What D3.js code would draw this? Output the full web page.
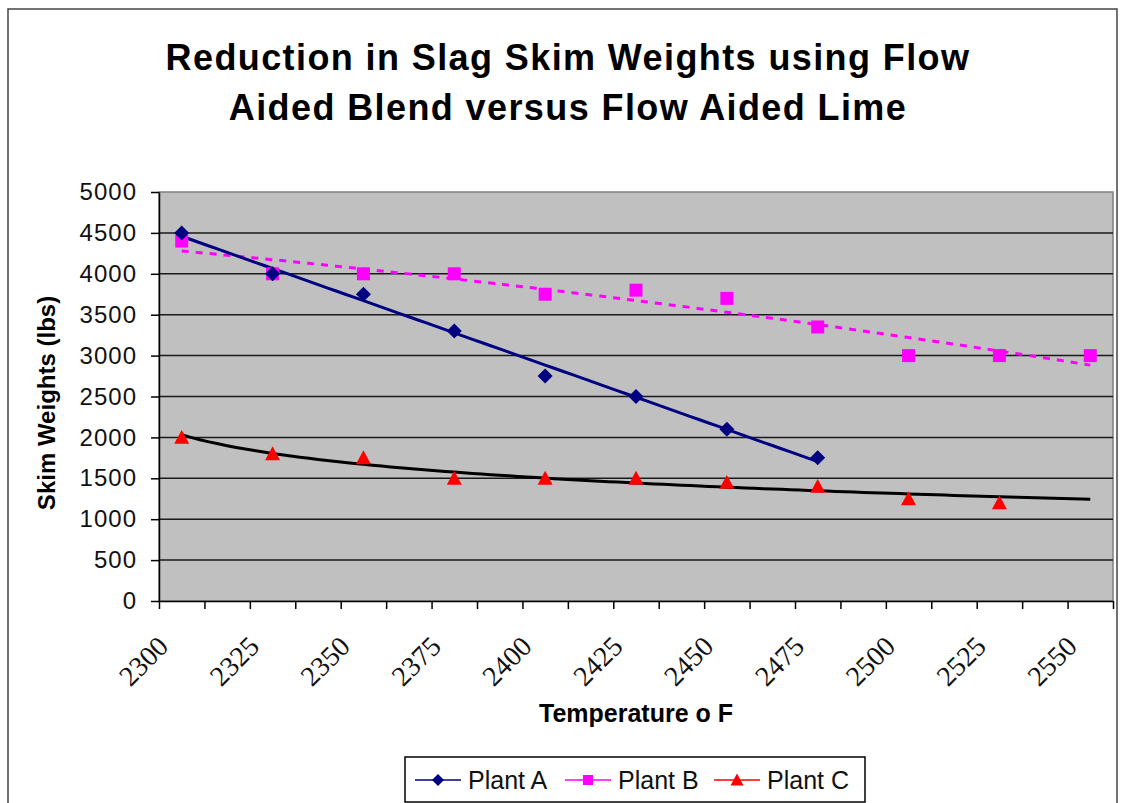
<!DOCTYPE html>
<html>
<head>
<meta charset="utf-8">
<script src="https://cdn.jsdelivr.net/npm/d3@7"></script>
<style>
  html, body { margin: 0; padding: 0; background: #fff; }
  svg { display: block; }
</style>
</head>
<body>
<svg width="1122" height="803"></svg>
<script>
"use strict";

// Temperatures (o F) used as the category labels
const temps = [2300, 2325, 2350, 2375, 2400, 2425, 2450, 2475, 2500, 2525, 2550];
// Skim weights in lbs, one per temperature (series stop where the data stops)
const plantA = [4500, 4000, 3750, 3300, 2750, 2500, 2100, 1750];
const plantB = [4400, 4000, 4000, 4000, 3750, 3800, 3700, 3350, 3000, 3000, 3000];
const plantC = [2000, 1800, 1750, 1500, 1500, 1500, 1450, 1400, 1250, 1200];
const yTicks = [0, 500, 1000, 1500, 2000, 2500, 3000, 3500, 4000, 4500, 5000];
const seriesNames = ["Plant A", "Plant B", "Plant C"];

const svg = d3.select("svg");
const plot = {left: 159, right: 1113, top: 192, bottom: 601};
const half = (temps[1] - temps[0]) / 4; // half of a tick interval

const x = d3.scaleLinear()
    .domain([temps[0] - half, temps[temps.length - 1] + half])
    .range([plot.left, plot.right]);
const y = d3.scaleLinear()
    .domain([0, 5000])
    .range([plot.bottom, plot.top]);

// x position for 1-based index used by Excel trendlines
const xIdx = i => x(temps[0] + (i - 1) * (temps[1] - temps[0]));

// outer chart border
svg.append("rect")
    .attr("x", 8).attr("y", 9)
    .attr("width", 1109).attr("height", 820)
    .attr("fill", "none").attr("stroke", "#444").attr("stroke-width", 1.5);

// title
svg.append("text")
    .attr("x", 568).attr("y", 70)
    .attr("text-anchor", "middle")
    .style("font", "bold 36px 'Liberation Sans', Arial, sans-serif")
    .style("letter-spacing", "1.4px")
    .selectAll("tspan")
    .data(["Reduction in Slag Skim Weights using Flow", "Aided Blend versus Flow Aided Lime"])
    .join("tspan")
        .attr("x", 568)
        .attr("dy", (d, i) => i ? 50 : 0)
        .text(d => d);

// plot area
svg.append("rect")
    .attr("x", plot.left).attr("y", plot.top)
    .attr("width", plot.right - plot.left).attr("height", plot.bottom - plot.top)
    .attr("fill", "#C0C0C0").attr("stroke", "#808080").attr("stroke-width", 1.5);

// gridlines
svg.append("g")
    .selectAll("line")
    .data(yTicks.filter(v => v > 0 && v < 5000))
    .join("line")
        .attr("x1", plot.left).attr("x2", plot.right)
        .attr("y1", d => y(d)).attr("y2", d => y(d))
        .attr("stroke", "#1a1a1a").attr("stroke-width", 1.5);

// y axis
const yAxis = svg.append("g")
    .attr("transform", `translate(${plot.left},0)`)
    .call(d3.axisLeft(y).tickValues(yTicks).tickFormat(d3.format("d"))
        .tickSize(8).tickSizeOuter(0).tickPadding(14));
yAxis.select(".domain").attr("stroke", "#000").attr("stroke-width", 1.5);
yAxis.selectAll(".tick line").attr("stroke", "#000").attr("stroke-width", 1.5);
yAxis.selectAll(".tick text")
    .style("font", "24px 'Liberation Sans', Arial, sans-serif")
    .style("letter-spacing", "1px")
    .attr("fill", "#111");

// x axis: tick marks every half category step
const xAxis = svg.append("g")
    .attr("transform", `translate(0,${plot.bottom})`)
    .call(d3.axisBottom(x)
        .tickValues(d3.range(0, 2 * temps.length).map(k => x.domain()[0] + k * 2 * half))
        .tickFormat("").tickSize(8).tickSizeOuter(0));
xAxis.select(".domain").attr("stroke", "#000").attr("stroke-width", 1.5);
xAxis.selectAll(".tick line").attr("stroke", "#000").attr("stroke-width", 1.5);

// x tick labels (rotated)
svg.append("g")
    .selectAll("text")
    .data(temps)
    .join("text")
        .attr("transform", d => `translate(${x(d - half) + 11},${plot.bottom + 47}) rotate(-45)`)
        .attr("text-anchor", "end")
        .style("font", "28px 'Liberation Serif', 'Times New Roman', serif")
        .attr("fill", "#111")
        .text(d => d);

// axis titles
svg.append("text")
    .attr("transform", "translate(55,403) rotate(-90)")
    .attr("text-anchor", "middle")
    .style("font", "bold 24px 'Liberation Sans', Arial, sans-serif")
    .text("Skim Weights (lbs)");
svg.append("text")
    .attr("x", 636).attr("y", 722)
    .attr("text-anchor", "middle")
    .style("font", "bold 25px 'Liberation Sans', Arial, sans-serif")
    .text("Temperature o F");

// trendline fits (Excel uses x = 1..n for line charts)
function linearFit(ys) {
    const xs = ys.map((v, i) => i + 1);
    const mx = d3.mean(xs), my = d3.mean(ys);
    const b = d3.sum(xs, (v, i) => (v - mx) * (ys[i] - my)) / d3.sum(xs, v => (v - mx) ** 2);
    return t => my + b * (t - mx);
}
function logFit(ys) {
    const ls = ys.map((v, i) => Math.log(i + 1));
    const ml = d3.mean(ls), my = d3.mean(ys);
    const b = d3.sum(ls, (v, i) => (v - ml) * (ys[i] - my)) / d3.sum(ls, v => (v - ml) ** 2);
    return t => my + b * (Math.log(t) - ml);
}
function polyFit2(ys) {
    const xs = ys.map((v, i) => i + 1);
    const s = p => d3.sum(xs, v => v ** p);
    const sy = p => d3.sum(xs, (v, i) => v ** p * ys[i]);
    const A = [[s(0), s(1), s(2)], [s(1), s(2), s(3)], [s(2), s(3), s(4)]];
    const B = [sy(0), sy(1), sy(2)];
    // gaussian elimination
    for (let c = 0; c < 3; c++) {
        for (let r = c + 1; r < 3; r++) {
            const f = A[r][c] / A[c][c];
            for (let k = c; k < 3; k++) A[r][k] -= f * A[c][k];
            B[r] -= f * B[c];
        }
    }
    const co = [0, 0, 0];
    for (let r = 2; r >= 0; r--) {
        let acc = B[r];
        for (let k = r + 1; k < 3; k++) acc -= A[r][k] * co[k];
        co[r] = acc / A[r][r];
    }
    return t => co[0] + co[1] * t + co[2] * t * t;
}

const trendLine = d3.line().x(d => xIdx(d[0])).y(d => y(d[1]));
function trendPoints(f, n) {
    return d3.range(1, n + 0.001, 0.1).map(t => [t, f(t)]);
}

svg.append("path")
    .attr("d", trendLine(trendPoints(polyFit2(plantB), temps.length)))
    .attr("fill", "none").attr("stroke", "#FF00FF").attr("stroke-width", 3)
    .attr("stroke-dasharray", "7,7");
svg.append("path")
    .attr("d", trendLine(trendPoints(logFit(plantC), temps.length)))
    .attr("fill", "none").attr("stroke", "#000").attr("stroke-width", 3);
svg.append("path")
    .attr("d", trendLine(trendPoints(linearFit(plantA), plantA.length)))
    .attr("fill", "none").attr("stroke", "#000080").attr("stroke-width", 3);

// markers
const diamond = r => `M0,${-r}L${r},0L0,${r}L${-r},0Z`;
const square = r => `M${-r},${-r}H${r}V${r}H${-r}Z`;
const triangle = r => `M0,${-r}L${r},${r * 0.85}L${-r},${r * 0.85}Z`;

svg.append("g").selectAll("path")
    .data(plantB).join("path")
        .attr("transform", (d, i) => `translate(${x(temps[i])},${y(d)})`)
        .attr("d", square(6.5)).attr("fill", "#FF00FF");
svg.append("g").selectAll("path")
    .data(plantA).join("path")
        .attr("transform", (d, i) => `translate(${x(temps[i])},${y(d)})`)
        .attr("d", diamond(7.5)).attr("fill", "#000080");
svg.append("g").selectAll("path")
    .data(plantC).join("path")
        .attr("transform", (d, i) => `translate(${x(temps[i])},${y(d)})`)
        .attr("d", triangle(7.5)).attr("fill", "#FF0000");

// legend
const legend = svg.append("g");
legend.append("rect")
    .attr("x", 405).attr("y", 757).attr("width", 460).attr("height", 45)
    .attr("fill", "#fff").attr("stroke", "#000").attr("stroke-width", 1.5);
const legendColors = ["#000080", "#FF00FF", "#FF0000"];
const legendShapes = [diamond(6), square(5), triangle(6.5)];
const legendX = [415, 565, 714];
seriesNames.forEach((name, i) => {
    const gx = legendX[i];
    legend.append("line")
        .attr("x1", gx).attr("x2", gx + 46).attr("y1", 780).attr("y2", 780)
        .attr("stroke", legendColors[i]).attr("stroke-width", 1.5);
    legend.append("path")
        .attr("transform", `translate(${gx + 23},780)`)
        .attr("d", legendShapes[i]).attr("fill", legendColors[i]);
    legend.append("text")
        .attr("x", gx + 53).attr("y", 789)
        .style("font", "25px 'Liberation Sans', Arial, sans-serif")
        .attr("fill", "#111")
        .text(name);
});
</script>
</body>
</html>
